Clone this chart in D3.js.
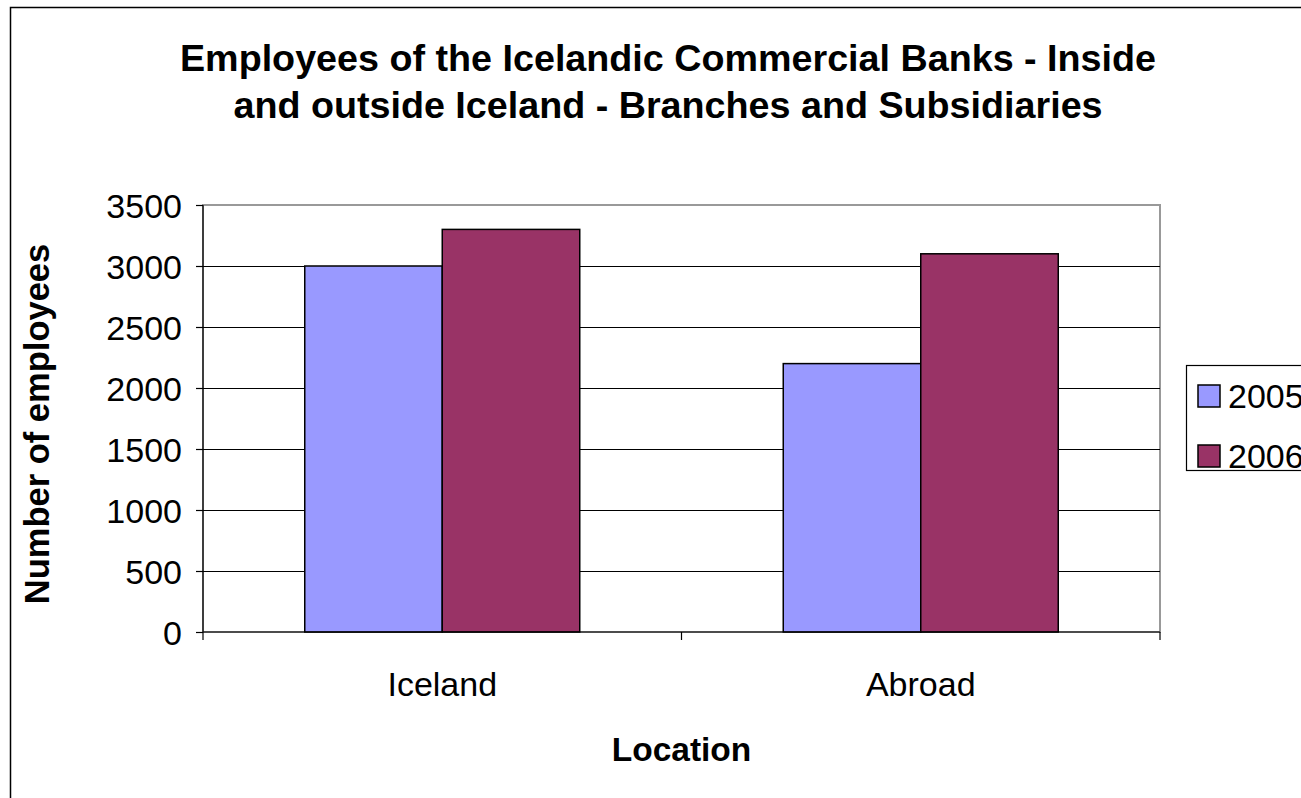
<html>
<script src="https://d3js.org/d3.v7.min.js"></script>
<style>
body { margin: 0; background: #fff; }
text { font-family: "Liberation Sans", Arial, sans-serif; fill: #000; }
</style>
<body>
<svg width="1301" height="798"></svg>
<script>
var categories = ["Iceland", "Abroad"];
var years = ["2005", "2006"];
var values2005 = [3000, 2200];
var values2006 = [3300, 3100];
var yTicks = [0, 500, 1000, 1500, 2000, 2500, 3000, 3500];
var colors = ["#9999FF", "#993366"];

var svg = d3.select("svg");
var pLeft = 203, pRight = 1160, pTop = 205, pBottom = 632;

// outer chart border
svg.append("rect")
  .attr("x", 10.5).attr("y", 7.5)
  .attr("width", 1400).attr("height", 900)
  .attr("fill", "#fff").attr("stroke", "#000").attr("stroke-width", 1.5);

var x = d3.scaleBand().domain(categories).range([pLeft, pRight]).paddingInner(0).paddingOuter(0);
var x1 = d3.scaleBand().domain(years).range([0, x.bandwidth()]).paddingInner(0).paddingOuter(0.74);
var y = d3.scaleLinear().domain([0, 3500]).range([pBottom, pTop]);

// plot area border (grey)
svg.append("rect")
  .attr("x", pLeft).attr("y", pTop)
  .attr("width", pRight - pLeft).attr("height", pBottom - pTop)
  .attr("fill", "none").attr("stroke", "#999").attr("stroke-width", 2);

// gridlines
svg.append("g").selectAll("line")
  .data(yTicks.filter(function(d) { return d > 0 && d < 3500; }))
  .enter().append("line")
    .attr("x1", pLeft).attr("x2", pRight)
    .attr("y1", function(d) { return Math.round(y(d)) + 0.5; })
    .attr("y2", function(d) { return Math.round(y(d)) + 0.5; })
    .attr("stroke", "#000").attr("stroke-width", 1);

var rows = categories.map(function(c, i) {
  return { cat: c, vals: [values2005[i], values2006[i]] };
});

svg.append("g").selectAll("g")
  .data(rows)
  .enter().append("g")
    .attr("transform", function(d) { return "translate(" + x(d.cat) + ",0)"; })
  .selectAll("rect")
  .data(function(d) { return d.vals.map(function(v, j) { return { year: years[j], v: v, j: j }; }); })
  .enter().append("rect")
    .attr("x", function(d) { return x1(d.year); })
    .attr("y", function(d) { return y(d.v); })
    .attr("width", x1.bandwidth())
    .attr("height", function(d) { return pBottom - y(d.v); })
    .attr("fill", function(d) { return colors[d.j]; })
    .attr("stroke", "#000").attr("stroke-width", 1.5);

// y axis
var yAxis = svg.append("g")
  .attr("transform", "translate(" + pLeft + ",0)")
  .call(d3.axisLeft(y).tickValues(yTicks).tickFormat(d3.format("d")).tickSize(7).tickPadding(14));
yAxis.selectAll("text").style("font-size", "34px").attr("dy", "0.36em");
yAxis.selectAll("line, path").attr("stroke", "#000").attr("stroke-width", 1.2);
yAxis.select(".domain").attr("d", "M0," + pTop + "V" + pBottom);

// x axis
var xAxis = svg.append("g")
  .attr("transform", "translate(0," + pBottom + ")")
  .call(d3.axisBottom(x).tickSize(0).tickPadding(40));
xAxis.selectAll("text").style("font-size", "34px");
xAxis.select(".domain").attr("stroke", "#000").attr("stroke-width", 1.2).attr("d", "M" + pLeft + ",0H" + pRight);
xAxis.selectAll(".sep")
  .data([pLeft, pLeft + x.bandwidth(), pRight])
  .enter().append("line")
    .attr("x1", function(d) { return d; }).attr("x2", function(d) { return d; })
    .attr("y1", 0).attr("y2", 8)
    .attr("stroke", "#000").attr("stroke-width", 1.2);

// title
var title = svg.append("text")
  .attr("text-anchor", "middle")
  .style("font-size", "37.7px").style("font-weight", "bold");
title.append("tspan").attr("x", 668).attr("y", 71).text("Employees of the Icelandic Commercial Banks - Inside");
title.append("tspan").attr("x", 668).attr("y", 118).text("and outside Iceland - Branches and Subsidiaries");

// axis titles
svg.append("text")
  .attr("x", (pLeft + pRight) / 2).attr("y", 761)
  .attr("text-anchor", "middle")
  .style("font-size", "33.5px").style("font-weight", "bold")
  .text("Location");

svg.append("text")
  .attr("transform", "translate(49,424) rotate(-90)")
  .attr("text-anchor", "middle")
  .style("font-size", "34.5px").style("font-weight", "bold")
  .text("Number of employees");

// legend
var legend = svg.append("g");
legend.append("rect")
  .attr("x", 1186.5).attr("y", 365.5)
  .attr("width", 200).attr("height", 105)
  .attr("fill", "#fff").attr("stroke", "#000").attr("stroke-width", 1.2);
var items = legend.selectAll("g.item")
  .data(years)
  .enter().append("g")
    .attr("transform", function(d, i) { return "translate(1198," + (385 + i * 60) + ")"; });
items.append("rect")
  .attr("width", 22).attr("height", 22)
  .attr("fill", function(d, i) { return colors[i]; })
  .attr("stroke", "#000").attr("stroke-width", 1.5);
items.append("text")
  .attr("x", 30).attr("y", 11).attr("dy", "0.36em")
  .style("font-size", "34px")
  .text(function(d) { return d; });
</script>
</body>
</html>
